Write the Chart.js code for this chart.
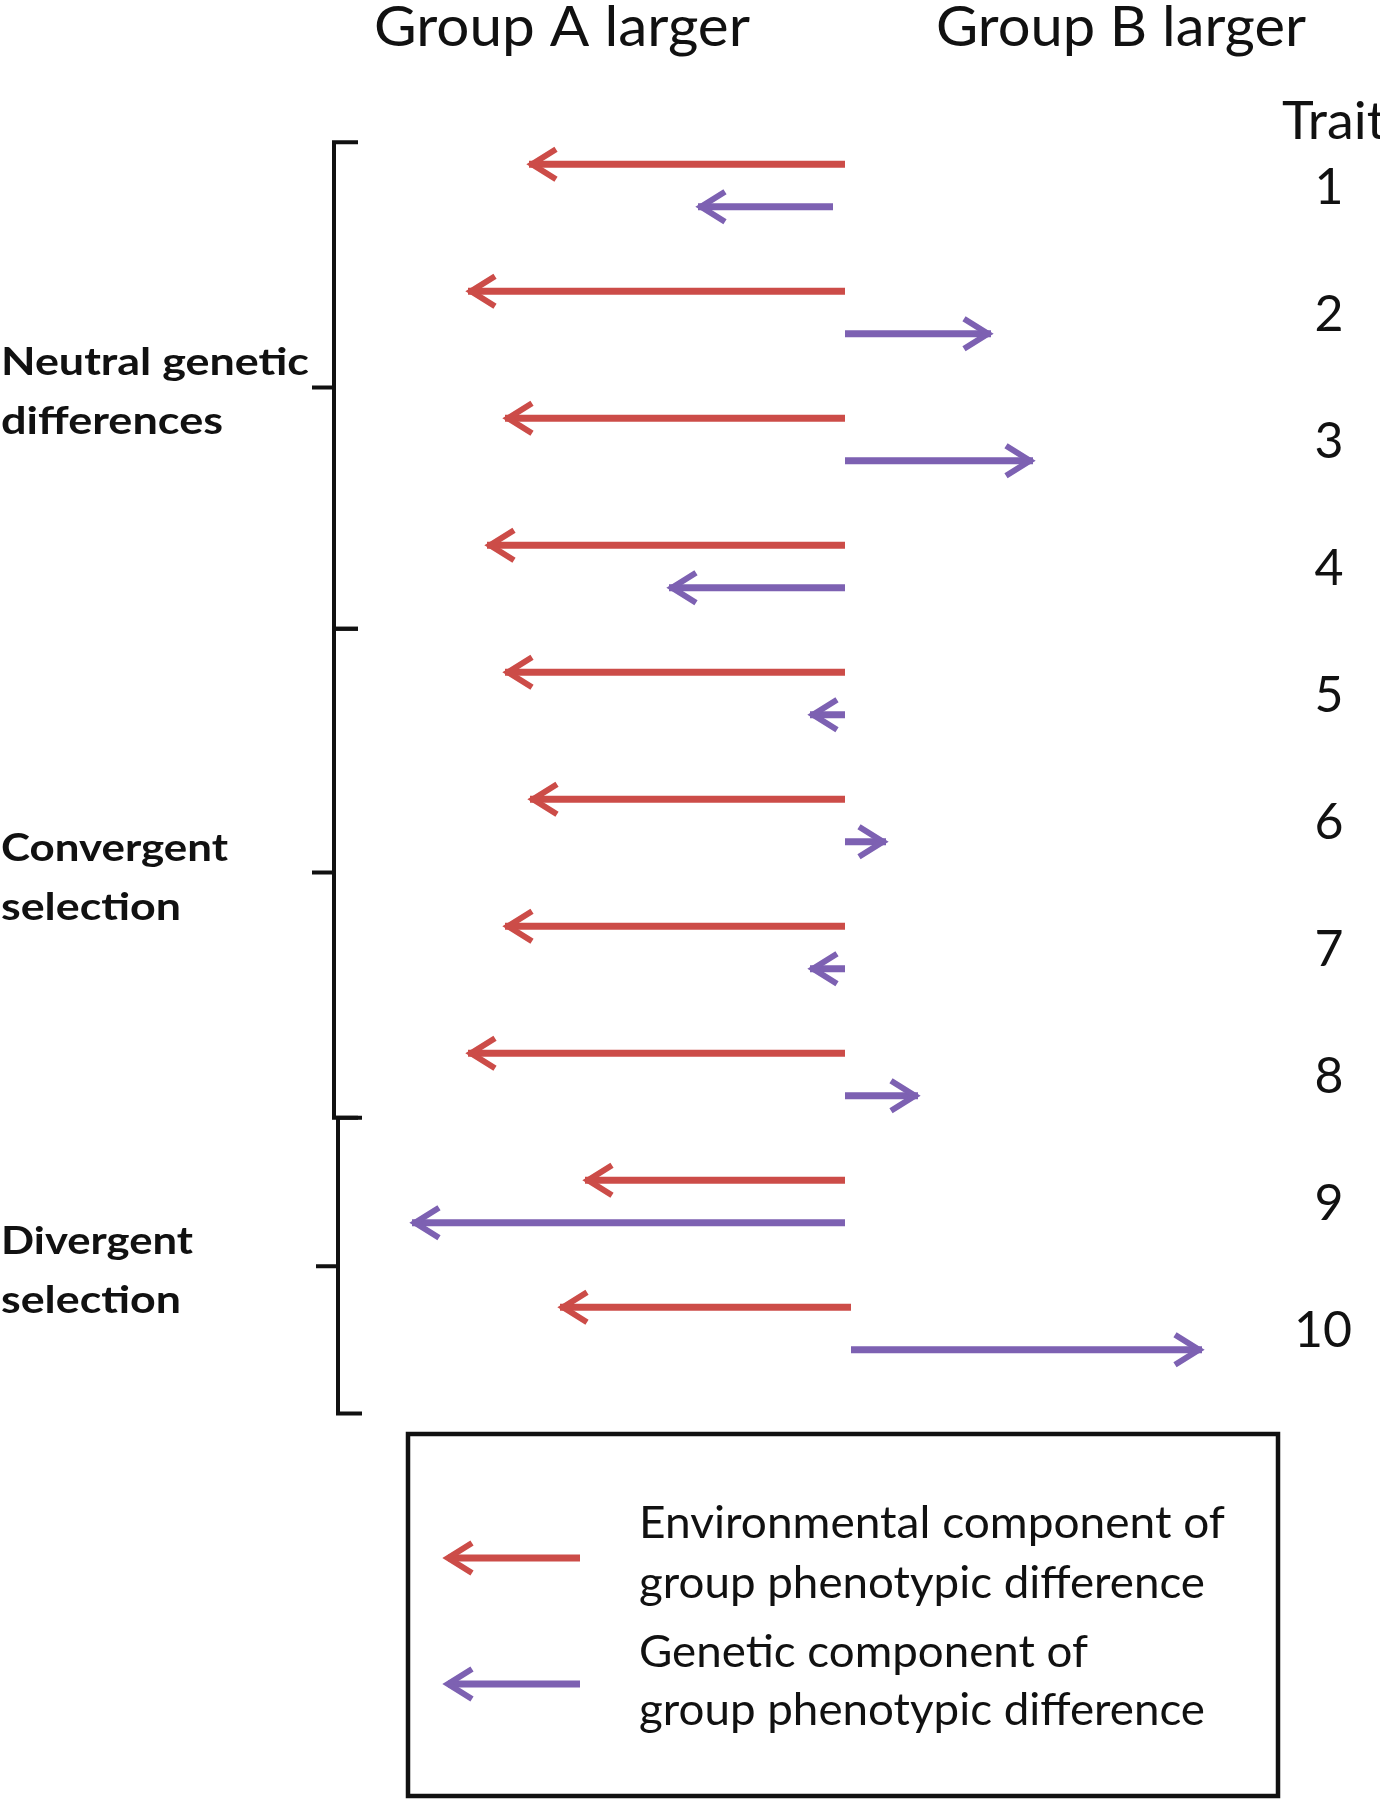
<!DOCTYPE html>
<html>
<head>
<meta charset="utf-8">
<title>Environmental vs genetic components</title>
<script src="https://cdn.jsdelivr.net/npm/chart.js@4.4.1/dist/chart.umd.min.js"></script>
<style>
  html, body { margin: 0; padding: 0; background: #fff; }
  #wrap { width: 1380px; height: 1800px; }
</style>
</head>
<body>
<div id="wrap"><canvas id="arrows" width="1380" height="1800"></canvas></div>
<script>
// trait rows
const traits = ['1', '2', '3', '4', '5', '6', '7', '8', '9', '10'];

// environmental component (start, end) - negative = group A larger
const envStart = [0, 0, 0, 0, 0, 0, 0, 0, 0, 0.6];
const envEnd = [-31.6, -37.7, -34.0, -35.8, -34.0, -31.5, -34.0, -37.7, -26.0, -28.5];

// genetic component (start, end)
const genStart = [-1.2, 0, 0, 0, 0, 0, 0, 0, 0, 0.6];
const genEnd = [-14.7, 14.6, 18.8, -17.6, -3.5, 4.1, -3.5, 7.3, -43.3, 35.7];

// groups of traits
const groupNames = [['Neutral genetic', 'differences'], ['Convergent', 'selection'], ['Divergent', 'selection']];

const seriesNames = [['Environmental component of', 'group phenotypic difference'],
                     ['Genetic component of', 'group phenotypic difference']];

const RED = '#CC4C48';
const PURPLE = '#7D61B2';
const INK = '#111111';

function pairs(a, b) {
  let out = [];
  for (let i = 0; i < a.length; i++) out.push([a[i], b[i]]);
  return out;
}

// draw text squeezed/stretched to a given width
function fitText(ctx, str, x, y, w) {
  const m = ctx.measureText(str).width;
  ctx.save();
  ctx.translate(x, y);
  ctx.scale(w / m, 1);
  ctx.textAlign = 'left';
  ctx.fillText(str, 0, 0);
  ctx.restore();
}

function chevron(ctx, x, y, dir, color) {
  const L = 24, H = 15;
  ctx.save();
  ctx.strokeStyle = color;
  ctx.lineWidth = 6;
  ctx.lineJoin = 'miter';
  ctx.lineCap = 'butt';
  ctx.beginPath();
  const tx = x - dir * 3;
  ctx.moveTo(tx - dir * L, y - H);
  ctx.lineTo(tx, y);
  ctx.lineTo(tx - dir * L, y + H);
  ctx.stroke();
  ctx.restore();
}

const arrowHeads = {
  id: 'arrowHeads',
  afterDatasetsDraw(chart) {
    const ctx = chart.ctx;
    chart.data.datasets.forEach(function(ds, di) {
      const meta = chart.getDatasetMeta(di);
      meta.data.forEach(function(bar) {
        const dir = bar.x >= bar.base ? 1 : -1;
        chevron(ctx, bar.x, bar.y, dir, ds.backgroundColor);
      });
    });
  }
};

const decorations = {
  id: 'decorations',
  afterDraw(chart) {
    const ctx = chart.ctx;
    const y = chart.scales.y;
    ctx.save();
    ctx.fillStyle = INK;
    ctx.textBaseline = 'alphabetic';

    // headers
    ctx.font = '400 56px Lato';
    fitText(ctx, 'Group A larger', 374, 46, 376);
    fitText(ctx, 'Group B larger', 936, 46, 370);

    // trait column
    ctx.font = '400 52px Lato';
    fitText(ctx, 'Trait', 1282, 139, 104);
    ctx.font = '400 50px Lato';
    ctx.textAlign = 'center';
    traits.forEach(function(t, i) {
      ctx.fillText(t, t.length > 1 ? 1323 : 1329, y.getPixelForValue(i) + 18);
    });

    // brackets
    const edges = [-0.34, 3.49, 7.34, 9.67];
    const mids = [1.59, 5.41, 8.51];
    const bx = [334, 334, 338];
    ctx.strokeStyle = INK;
    ctx.lineWidth = 4;
    for (let g = 0; g < 3; g++) {
      const top = y.getPixelForValue(edges[g]);
      const bot = y.getPixelForValue(edges[g + 1]);
      const mid = y.getPixelForValue(mids[g]);
      ctx.beginPath();
      ctx.moveTo(bx[g] + 24, top);
      ctx.lineTo(bx[g], top);
      ctx.lineTo(bx[g], bot);
      ctx.lineTo(bx[g] + 24, bot);
      ctx.moveTo(bx[g] - 22, mid);
      ctx.lineTo(bx[g], mid);
      ctx.stroke();
    }

    // group labels
    ctx.font = '700 38px Lato';
    const w1 = [308, 227, 192];
    const w2 = [222, 180, 180];
    for (let g = 0; g < 3; g++) {
      const mid = y.getPixelForValue(mids[g]);
      fitText(ctx, groupNames[g][0], 1, mid - 12, w1[g]);
      fitText(ctx, groupNames[g][1], 1, mid + 47, w2[g]);
    }

    // legend box
    ctx.lineWidth = 4.5;
    ctx.strokeRect(408, 1434, 870, 362);
    const legY = [1558, 1684];
    const legColors = [RED, PURPLE];
    const lineBase = [[1538, 1598], [1667, 1725]];
    const lineW = [[586, 566], [449, 566]];
    ctx.font = '400 44px Lato';
    for (let k = 0; k < 2; k++) {
      ctx.fillStyle = legColors[k];
      ctx.fillRect(448, legY[k] - 3.5, 132, 7);
      chevron(ctx, 445, legY[k], -1, legColors[k]);
      ctx.fillStyle = INK;
      fitText(ctx, seriesNames[k][0], 639, lineBase[k][0], lineW[k][0]);
      fitText(ctx, seriesNames[k][1], 639, lineBase[k][1], lineW[k][1]);
    }
    ctx.restore();
  }
};

const ctx = document.getElementById('arrows').getContext('2d');

window.arrowChart = new Chart(ctx, {
  type: 'bar',
  data: {
    labels: traits,
    datasets: [{
      label: 'Environmental',
      data: pairs(envStart, envEnd),
      backgroundColor: RED,
      borderWidth: 0,
      categoryPercentage: 0.669,
      barPercentage: 0.165
    }, {
      label: 'Genetic',
      data: pairs(genStart, genEnd),
      backgroundColor: PURPLE,
      borderWidth: 0,
      categoryPercentage: 0.669,
      barPercentage: 0.165
    }]
  },
  options: {
    indexAxis: 'y',
    responsive: false,
    animation: false,
    devicePixelRatio: 1,
    layout: {
      padding: { left: 385, right: 135, top: 122, bottom: 408 }
    },
    scales: {
      x: { display: false, min: -46, max: 40 },
      y: { display: false, offset: true }
    },
    plugins: {
      legend: { display: false },
      title: { display: false },
      tooltip: { enabled: false }
    }
  },
  plugins: [arrowHeads, decorations]
});
</script>
</body>
</html>
